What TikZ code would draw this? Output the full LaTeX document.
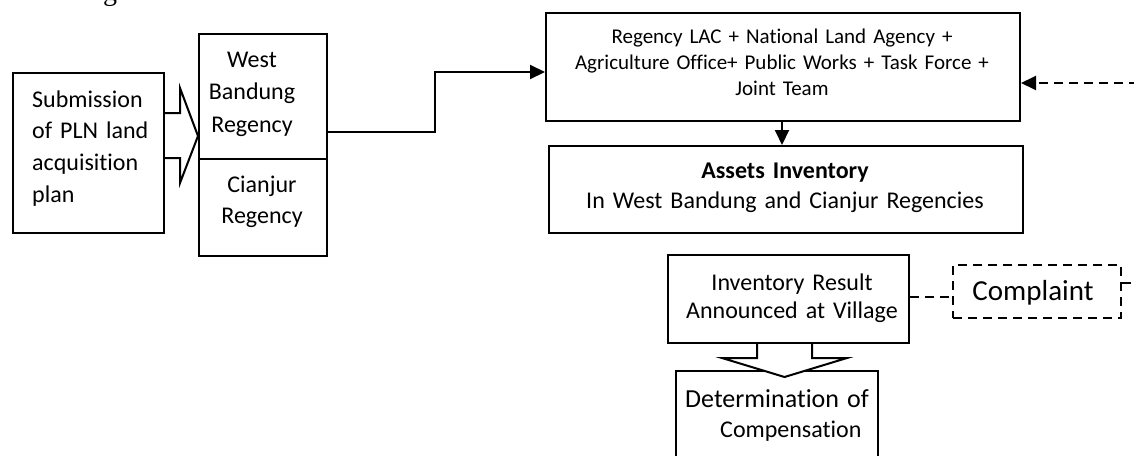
\documentclass[tikz,border=0pt]{standalone}
\usepackage{fontspec}
\setmainfont{Carlito}[Ligatures={NoCommon,NoContextual}]
\newfontfamily\fragfont{Liberation Serif}
\usetikzlibrary{arrows.meta,calc}
\newcommand{\myfs}[2]{\fontsize{#1}{#2}\selectfont}
\begin{document}
\begin{tikzpicture}[x=1pt,y=-1pt,
  box/.style={draw, line width=2pt, rectangle, inner sep=0pt, anchor=north west},
  dbox/.style={box, dash pattern=on 9pt off 6pt},
  txt/.style={inner sep=0pt, anchor=base, align=center},
  conn/.style={line width=2pt, -{Triangle[length=15pt,width=14pt]}},
  dconn/.style={line width=2pt, dash pattern=on 9pt off 6pt},
  hollow/.style={draw, line width=2pt, fill=white, line join=miter},
]
\useasboundingbox (0,0) rectangle (1134,455);
\clip (0,0) rectangle (1134,455);

% cropped heading fragment
\node[inner sep=0pt, anchor=base, font=\fragfont\myfs{28}{30}] (frag) at (110,1) {g};

% boxes
\node[box, minimum width=151pt, minimum height=160pt] (sub) at (12,72) {};
\node[box, minimum width=128pt, minimum height=125pt] (wb) at (198,33) {};
\node[box, minimum width=128pt, minimum height=97pt] (cj) at (198,158) {};
\node[box, minimum width=474pt, minimum height=108pt] (team) at (545,12) {};
\node[box, minimum width=474pt, minimum height=87pt] (assets) at (548,145) {};
\node[box, minimum width=241pt, minimum height=88pt] (inv) at (667,254) {};
\node[dbox, minimum width=168pt, minimum height=53pt] (comp) at (952,264) {};
\node[box, minimum width=202pt, minimum height=120pt] (det) at (675,370) {};

% texts
\node[txt, text width=140pt, align=left, anchor=base west, font=\myfs{24}{31.7}] (tsub) at (32,107) {Submission\\of PLN land\\acquisition\\plan};
\node[txt, text width=126pt, font=\myfs{24}{32.5}] (twb) at (252,67) {West\\Bandung\\Regency};
\node[txt, text width=126pt, font=\myfs{24}{31}] (tcj) at (262,192) {Cianjur\\Regency};
\node[txt, text width=470pt, font=\myfs{21}{26}] (tteam) at (782,43.3) {Regency LAC + National Land Agency +\\Agriculture Office+ Public Works + Task Force +\\Joint Team};
\node[txt, text width=470pt, font=\myfs{24}{30}] (tassets) at (785,178) {\textbf{Assets Inventory}\\In West Bandung and Cianjur Regencies};
\node[txt, text width=236pt, font=\myfs{24}{28}] (tinv) at (792,290) {Inventory Result\\Announced at Village};
\node[txt, text width=160pt, font=\myfs{29}{32}] (tcomp) at (1033,300) {Complaint};
\node[txt, text width=200pt, align=left, anchor=base west, font=\myfs{24}{30}] (tdet) at (685,407) {{\myfs{26}{30}Determination of}\\\hspace*{35pt}Compensation};

% helper coordinates
\coordinate (e1) at (435,132);
\coordinate (e2) at (435,72);
\coordinate (dn) at (782,0);
\coordinate (d1) at (1150,83);
\coordinate (d2) at (1150,283);
\coordinate (d3) at (0,297);
\coordinate (h1) at (0,113);
\coordinate (h2) at (0,158);
\coordinate (ht) at (0,136);
\coordinate (v1) at (757,0);
\coordinate (v2) at (812,0);

% connectors
\draw[conn] (wb.east |- e1) -- (e1) -- (e2) -- (team.west |- e2);
\draw[conn] (team.south -| dn) -- (assets.north -| dn);
\draw[dconn] (inv.east |- d3) -- (comp.west |- d3);
\draw[dconn, -{Triangle[length=15pt,width=14pt]}] (comp.east |- d2) -- (d2) -- (d1) -- (team.east |- d1);

% block arrows
\draw[hollow] (sub.east |- h1) -- (180,113) -- (180,88) -- (wb.west |- ht) -- (180,183) -- (180,158) -- (sub.east |- h2);
\draw[hollow] (inv.south -| v1) -- (757,358) -- (722,358) -- (784.5,377) -- (847,358) -- (812,358) -- (inv.south -| v2);
\end{tikzpicture}
\end{document}
